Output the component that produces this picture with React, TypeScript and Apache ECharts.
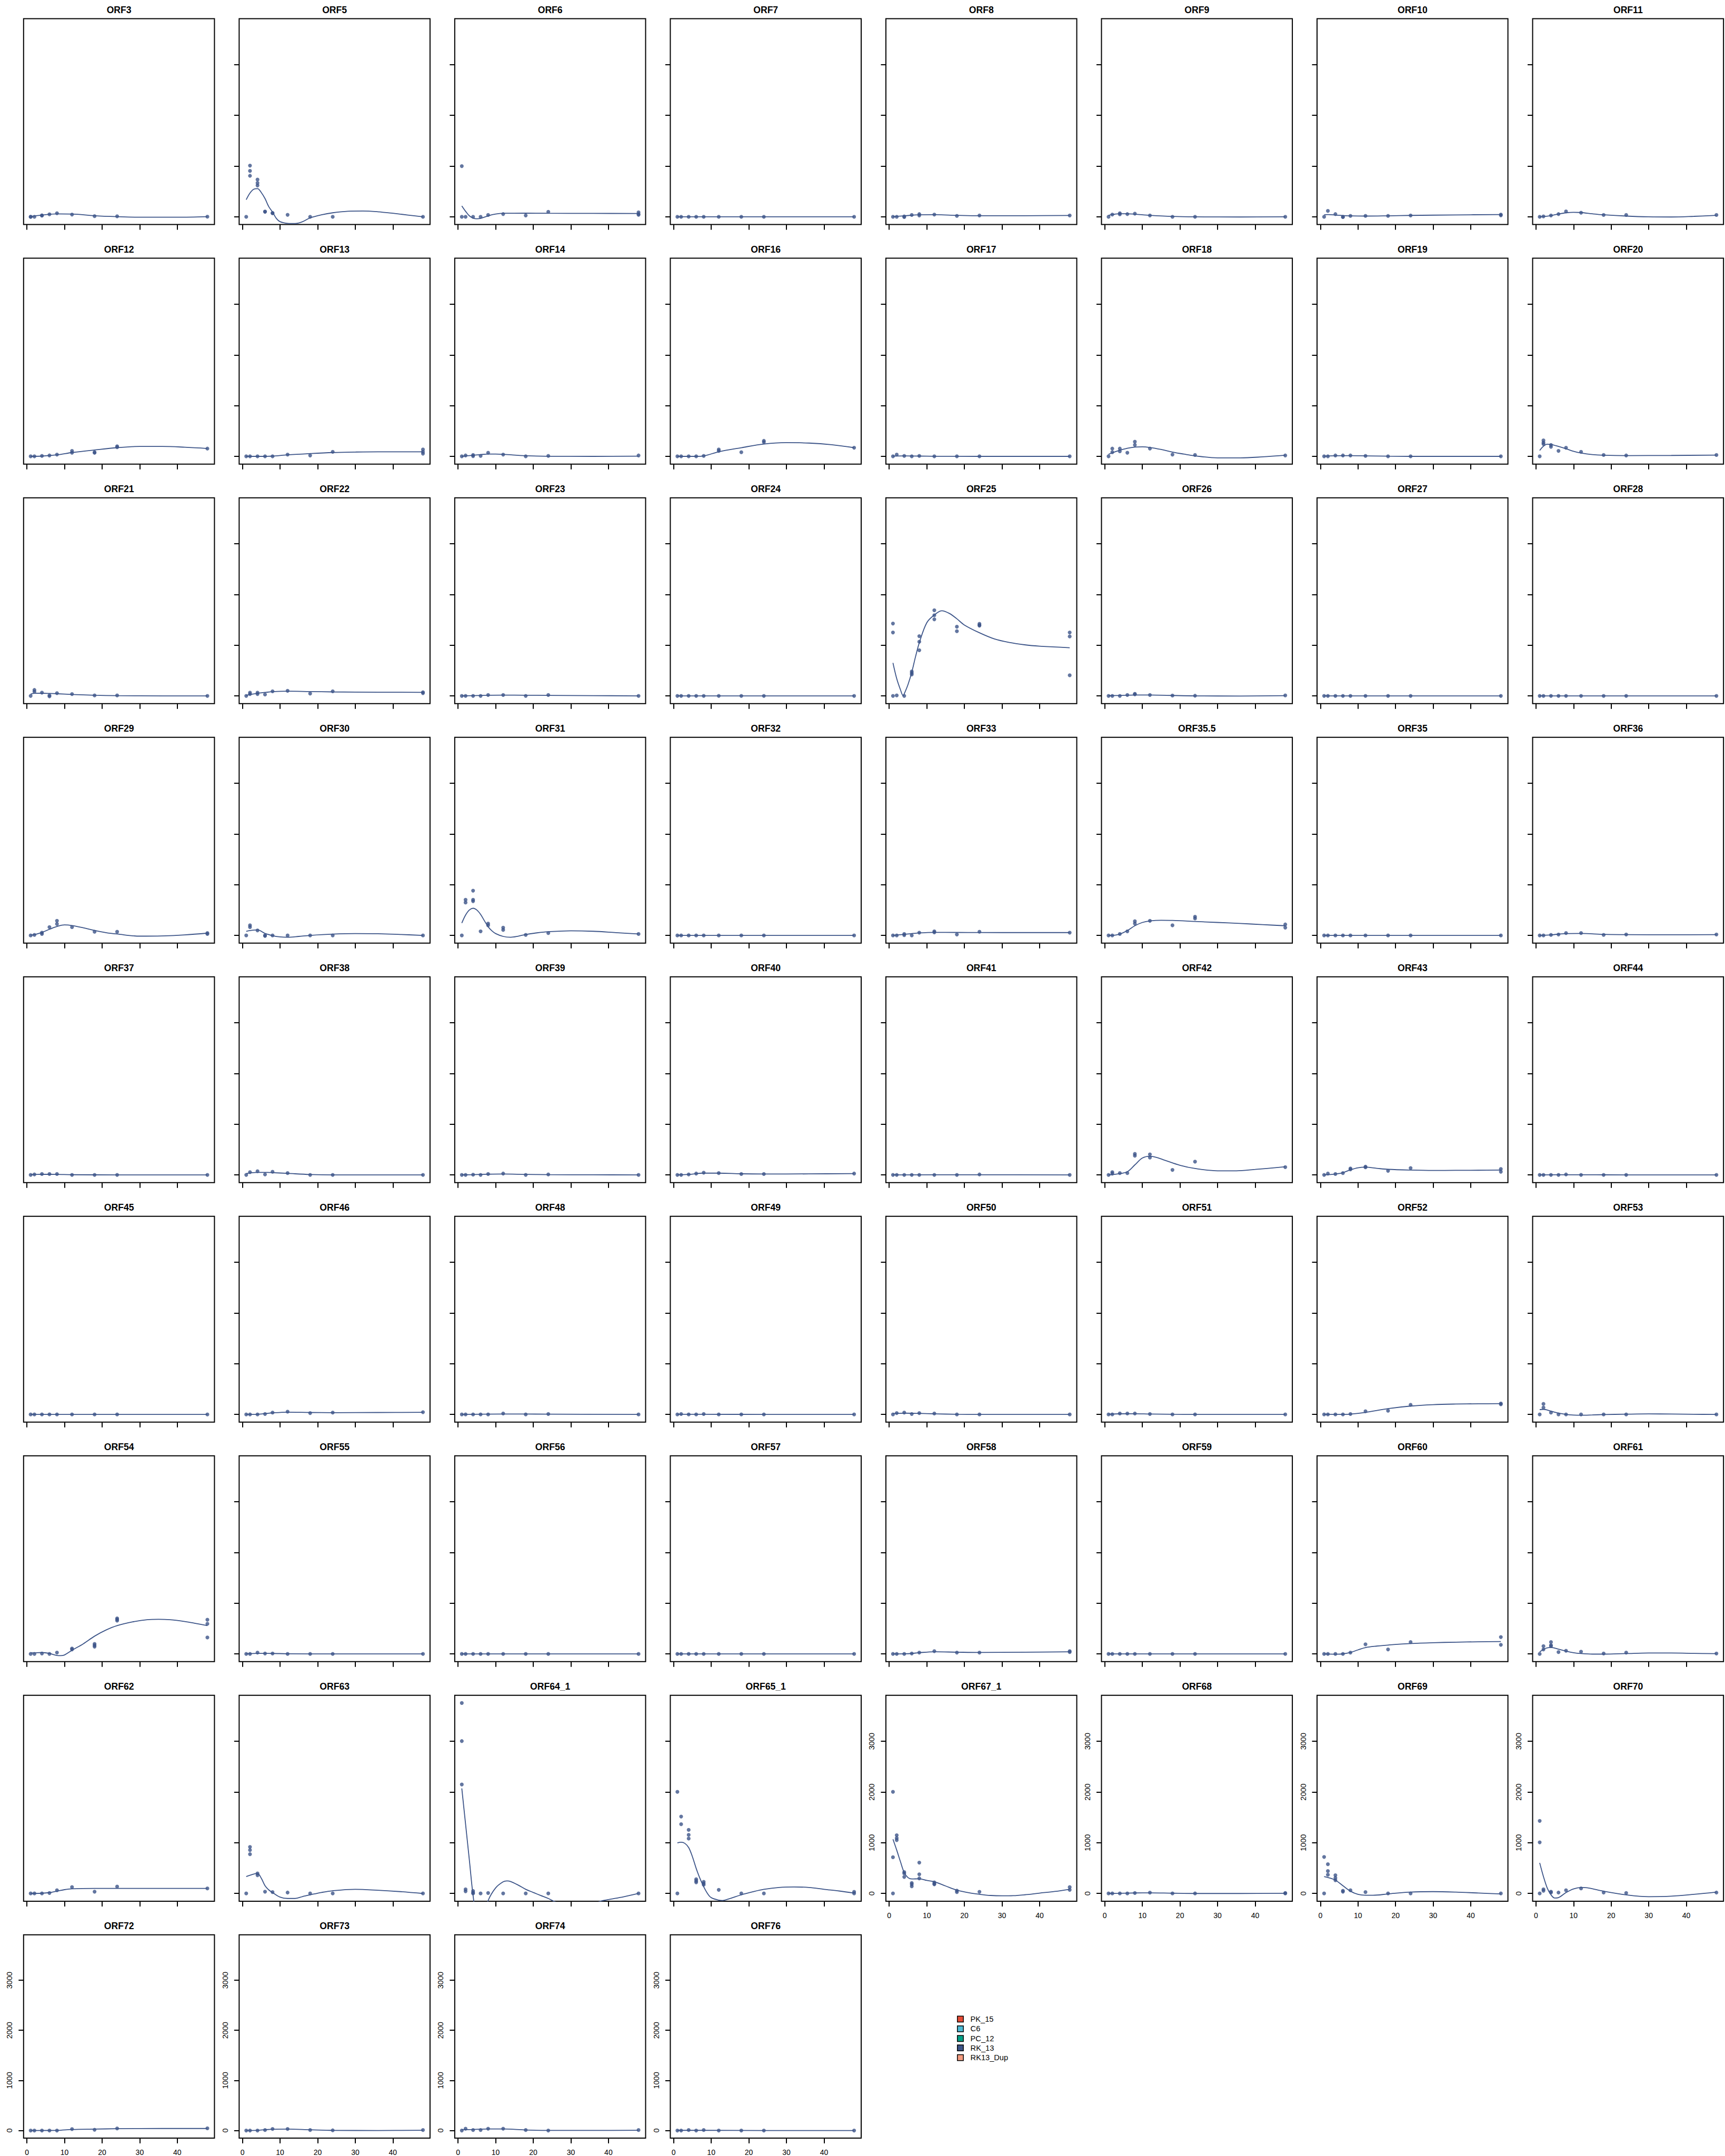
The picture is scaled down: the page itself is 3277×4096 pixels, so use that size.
import { useEffect, useRef } from "react";
import * as echarts from "echarts";

// ---------- data ----------
const timePoints = [1, 2, 4, 6, 8, 12, 18, 24, 48];
const xTicks = [0, 10, 20, 30, 40];
const yTicks = [0, 1000, 2000, 3000];
const X_MIN = -0.88;
const X_MAX = 49.88;
const Y_MIN = -152;
const Y_MAX = 3906;

const legendNames = ["PK_15", "C6", "PC_12", "RK_13", "RK13_Dup"];
const legendColors = ["#E64B35", "#4DBBD5", "#00A087", "#3C5488", "#F39B7F"];
const seriesColor = "#3C5488";

const panelNames = [
  "ORF3", "ORF5", "ORF6", "ORF7", "ORF8", "ORF9", "ORF10", "ORF11",
  "ORF12", "ORF13", "ORF14", "ORF16", "ORF17", "ORF18", "ORF19", "ORF20",
  "ORF21", "ORF22", "ORF23", "ORF24", "ORF25", "ORF26", "ORF27", "ORF28",
  "ORF29", "ORF30", "ORF31", "ORF32", "ORF33", "ORF35.5", "ORF35", "ORF36",
  "ORF37", "ORF38", "ORF39", "ORF40", "ORF41", "ORF42", "ORF43", "ORF44",
  "ORF45", "ORF46", "ORF48", "ORF49", "ORF50", "ORF51", "ORF52", "ORF53",
  "ORF54", "ORF55", "ORF56", "ORF57", "ORF58", "ORF59", "ORF60", "ORF61",
  "ORF62", "ORF63", "ORF64_1", "ORF65_1", "ORF67_1", "ORF68", "ORF69", "ORF70",
  "ORF72", "ORF73", "ORF74", "ORF76",
];

// observed values per time point (replicates)
const ORF3_pts = [[0, 0], [0], [23, 30], [49], [72], [46], [13], [10], [3]];
const ORF5_pts = [[0], [1010, 905, 809], [734, 668, 619], [105, 100], [76, 70], [40], [0], [0], [0]];
const ORF6_pts = [[1000, 0], [0], [0], [0], [36], [54], [27], [99], [90, 54, 40]];
const ORF7_pts = [[0], [0], [0], [0], [0], [0], [0], [0], [0]];
const ORF8_pts = [[0], [0], [9, -5], [36], [54, 27], [45], [18], [27], [27]];
const ORF9_pts = [[0], [45], [72, 50], [54], [63], [27], [0], [0], [0]];
const ORF10_pts = [[0], [117], [54], [0, -5], [18], [18], [18], [27], [45, 30]];
const ORF11_pts = [[0], [9], [27], [54], [108], [81], [36], [36], [36]];
const ORF12_pts = [[0], [0], [9], [18], [36], [108, 72], [81, 70], [198, 180], [153]];
const ORF13_pts = [[0], [0], [0], [0], [0], [36], [18], [90], [135, 90, 54]];
const ORF14_pts = [[0], [18], [27, 5], [9], [72], [36], [0], [9], [18]];
const ORF16_pts = [[0], [0], [0], [0], [9], [135, 108], [81], [306, 279], [171]];
const ORF17_pts = [[0], [36], [9], [0], [9], [0], [0], [0], [0]];
const ORF18_pts = [[0], [153, 81], [153, 99], [72], [288, 225], [153], [36], [27], [18]];
const ORF19_pts = [[0], [0], [18], [18], [18], [9], [0], [0], [0]];
const ORF20_pts = [[0], [315, 270, 243], [225, 189], [108], [171], [90], [27], [18], [27]];
const ORF21_pts = [[0], [117, 81], [63], [9, -10], [54], [36], [9], [9], [0]];
const ORF22_pts = [[0], [36, 63], [63, 36], [27], [90], [99], [45], [90], [72, 54]];
const ORF23_pts = [[0], [0], [0], [0], [18], [18], [0], [18], [0]];
const ORF24_pts = [[0], [0], [0], [0], [0], [0], [0], [0], [0]];
const ORF25_pts = [[1427, 1250, 0], [9], [0], [482, 451, 421], [1177, 1067, 900], [1687, 1589, 1510], [1363, 1275], [1420, 1395, 1385], [1250, 1171, 406]];
const ORF26_pts = [[0], [0], [0], [18], [40, 30], [18], [6], [3], [9]];
const ORF27_pts = [[0], [0], [0], [0], [0], [0], [0], [0], [0]];
const ORF28_pts = [[0], [0], [0], [0], [0], [0], [0], [0], [0]];
const ORF29_pts = [[0], [9], [54, 27], [162], [288, 225], [162], [72], [72], [45, 27]];
const ORF30_pts = [[0], [198, 162], [99], [0, -10], [0], [0], [0], [0], [0]];
const ORF31_pts = [[0], [702, 648], [882, 702, 675], [81], [234, 198], [153, 108], [9], [45], [27]];
const ORF32_pts = [[0], [0], [0], [0], [0], [0], [0], [0], [0]];
const ORF33_pts = [[0], [0], [27, 5], [0], [54], [81, 60], [18], [72], [54]];
const ORF35_5_pts = [[0], [0], [27], [81], [279, 234], [288], [198], [369, 333], [216, 153]];
const ORF35_pts = [[0], [0], [0], [0], [0], [0], [0], [0], [0]];
const ORF36_pts = [[0], [0], [9], [18], [45], [45], [9], [18], [18]];
const ORF37_pts = [[0], [9], [18], [18], [18], [0], [0], [0], [0]];
const ORF38_pts = [[0], [54], [72], [9], [63], [36], [0], [0], [0]];
const ORF39_pts = [[0], [0], [5], [0], [18], [27], [0], [9], [0]];
const ORF40_pts = [[0], [0], [9], [27], [45], [36], [18], [18], [27]];
const ORF41_pts = [[0], [0], [0], [0], [0], [0], [0], [9], [0]];
const ORF42_pts = [[0], [54, 27], [36], [36], [414, 378], [405, 342], [99], [261], [153]];
const ORF43_pts = [[0], [27], [18], [36], [126, 110], [162, 150], [81], [135], [117, 63]];
const ORF44_pts = [[0], [0], [0], [0], [9], [0], [0], [0], [0]];
const ORF45_pts = [[0], [0], [0], [0], [0], [0], [0], [0], [0]];
const ORF46_pts = [[0], [0], [0], [9], [36], [54], [27], [36], [45]];
const ORF48_pts = [[0], [0], [0], [0], [0], [18], [0], [9], [0]];
const ORF49_pts = [[0], [9], [0], [0], [9], [0], [0], [0], [0]];
const ORF50_pts = [[0], [27], [36], [9], [27], [18], [0], [0], [0]];
const ORF51_pts = [[0], [0], [18], [18], [18], [9], [0], [0], [0]];
const ORF52_pts = [[0], [0], [0], [0], [9], [63], [72], [189], [216, 200]];
const ORF53_pts = [[0], [207, 135], [36], [0], [0], [0], [0], [0], [0]];
const ORF54_pts = [[0], [0], [9], [0], [27], [108, 90], [198, 170, 144], [702, 680, 657], [675, 594, 324]];
const ORF55_pts = [[0], [0], [27], [9], [9], [0], [0], [0], [0]];
const ORF56_pts = [[0], [0], [0], [0], [0], [0], [0], [0], [0]];
const ORF57_pts = [[0], [0], [0], [0], [0], [0], [0], [0], [0]];
const ORF58_pts = [[0], [0], [0], [9], [27], [54], [27], [27], [54, 36]];
const ORF59_pts = [[0], [0], [0], [0], [0], [0], [0], [0], [0]];
const ORF60_pts = [[0], [0], [0], [0], [27], [189], [90], [234], [333, 180]];
const ORF61_pts = [[0], [153, 90], [234, 171, 153], [36], [63], [45], [9], [27], [9]];
const ORF62_pts = [[0], [0], [0], [9], [63], [126], [36], [135], [99]];
const ORF63_pts = [[0], [918, 855, 774], [396, 360], [36], [27], [18], [0], [0], [0]];
const ORF64_1_pts = [[3754, 3004, 2148], [82, 43], [49, 16, 0], [0], [10], [0], [0], [0], [0]];
const ORF65_1_pts = [[2003, 0], [1517, 1365], [1253, 1155, 1082], [280, 247, 220], [230, 197, 171], [72], [0], [0], [33, 0]];
const ORF67_1_pts = [[2003, 714, 0], [1148, 1092, 1053], [421, 395, 326], [207, 181, 141], [609, 378, 296], [220, 191, 181], [56, 26], [33], [125, 72]];
const ORF68_pts = [[0], [0], [0], [0], [10], [16], [0], [0], [10, 0]];
const ORF69_pts = [[720, 0], [576, 441, 369], [360, 306, 261], [54, 36], [63], [27], [0], [0], [0]];
const ORF70_pts = [[1431, 1008, 0], [81, 54], [36, 18], [18], [63], [99], [18], [9], [18]];
const ORF72_pts = [[0], [0], [0], [0], [0], [28], [16], [40], [43]];
const ORF73_pts = [[0], [0], [0], [9], [31], [31], [9], [3], [9]];
const ORF74_pts = [[0], [36], [9], [9], [36], [36], [9], [0], [9]];
const ORF76_pts = [[0], [0], [9], [0], [9], [0], [0], [0], [0]];

// fitted curve, read as [time, value] knots
const ORF3_fit = [[1, 8], [4, 35], [8, 58], [12, 55], [18, 22], [24, 3], [30, -8], [40, -8], [48, 3]];
const ORF5_fit = [[1, 339], [2, 470], [3, 545], [4, 556], [5, 480], [6, 360], [7, 200], [8, 95], [9, -30], [10, -95], [12, -128], [14, -132], [16, -95], [18, -20], [21, 40], [24, 80], [28, 110], [32, 115], [36, 100], [40, 70], [44, 35], [48, 0]];
const ORF6_fit = [[1, 216], [2, 110], [3, 20], [4, -25], [5, -38], [6, -30], [8, 20], [10, 55], [12, 70], [18, 72], [24, 70], [36, 68], [48, 66]];
const ORF7_fit = [[1, 0], [48, 0]];
const ORF8_fit = [[1, 5], [4, 20], [8, 40], [12, 42], [18, 30], [24, 22], [36, 22], [48, 27]];
const ORF9_fit = [[1, 30], [2, 45], [4, 60], [6, 60], [8, 52], [12, 30], [18, 8], [24, 0], [36, -3], [48, 0]];
const ORF10_fit = [[1, 40], [2, 45], [4, 35], [6, 25], [8, 18], [12, 15], [18, 20], [24, 28], [36, 38], [48, 45]];
const ORF11_fit = [[1, 0], [2, 5], [4, 25], [6, 55], [8, 80], [10, 90], [12, 85], [15, 60], [18, 40], [24, 15], [30, 0], [36, -3], [42, 10], [48, 30]];
const ORF12_fit = [[1, 0], [4, 5], [8, 30], [12, 75], [18, 126], [24, 171], [30, 195], [36, 195], [42, 180], [48, 155]];
const ORF13_fit = [[1, 0], [6, 0], [8, 5], [12, 30], [18, 55], [24, 75], [30, 85], [36, 90], [48, 90]];
const ORF14_fit = [[1, 0], [2, 8], [4, 22], [6, 35], [8, 45], [10, 45], [12, 40], [18, 12], [24, 2], [36, 0], [48, 3]];
const ORF16_fit = [[1, 0], [6, 0], [8, 9], [12, 90], [18, 171], [24, 243], [30, 270], [36, 262], [42, 230], [48, 171]];
const ORF17_fit = [[1, 5], [4, 8], [8, 5], [12, 2], [24, 0], [48, 0]];
const ORF18_fit = [[1, 40], [2, 70], [4, 120], [6, 160], [8, 183], [10, 189], [12, 175], [15, 135], [18, 85], [21, 45], [24, 10], [30, -30], [36, -30], [42, -10], [48, 22]];
const ORF19_fit = [[1, 3], [4, 12], [8, 14], [12, 10], [18, 3], [24, 0], [48, 0]];
const ORF20_fit = [[1, 117], [2, 200], [3, 240], [4, 235], [6, 195], [8, 150], [10, 100], [12, 65], [15, 35], [18, 22], [24, 15], [36, 18], [48, 25]];
const ORF21_fit = [[1, 35], [2, 50], [4, 52], [6, 48], [8, 42], [12, 28], [18, 12], [24, 4], [36, 0], [48, 0]];
const ORF22_fit = [[1, 10], [2, 25], [4, 50], [6, 68], [8, 82], [12, 92], [18, 85], [24, 78], [36, 72], [48, 70]];
const ORF23_fit = [[1, 0], [8, 12], [12, 15], [18, 12], [24, 10], [36, 5], [48, 0]];
const ORF24_fit = [[1, 0], [48, 0]];
const ORF25_fit = [[1, 650], [2, 340], [3, 120], [3.7, 5], [4, 40], [5, 223], [6, 467], [7, 772], [8, 1046], [10, 1443], [12, 1595], [14, 1678], [16, 1626], [18, 1519], [20, 1397], [24, 1244], [28, 1122], [32, 1052], [36, 1007], [40, 979], [44, 964], [48, 949]];
const ORF26_fit = [[1, 3], [4, 8], [8, 18], [12, 18], [18, 8], [24, 0], [36, -3], [48, 5]];
const ORF27_fit = [[1, 0], [48, 0]];
const ORF28_fit = [[1, 0], [48, 0]];
const ORF29_fit = [[1, 5], [2, 15], [4, 60], [6, 120], [8, 175], [10, 207], [12, 195], [15, 150], [18, 99], [21, 55], [24, 27], [30, -15], [36, -10], [42, 10], [48, 45]];
const ORF30_fit = [[1, 81], [2, 95], [4, 108], [6, 40], [8, -5], [10, -30], [12, -36], [15, -20], [18, 0], [24, 25], [30, 36], [36, 33], [42, 18], [48, 0]];
const ORF31_fit = [[1, 243], [2, 400], [3, 500], [4, 535], [5, 500], [6, 414], [7, 290], [8, 171], [9, 90], [10, 36], [12, -20], [14, -36], [16, -15], [18, 18], [21, 50], [24, 72], [30, 90], [36, 81], [42, 54], [48, 27]];
const ORF32_fit = [[1, 0], [48, 0]];
const ORF33_fit = [[1, 0], [4, 20], [8, 48], [12, 60], [18, 58], [24, 56], [36, 55], [48, 55]];
const ORF35_5_fit = [[1, 0], [2, 0], [4, 25], [6, 95], [8, 190], [10, 255], [12, 285], [15, 298], [18, 295], [24, 275], [30, 255], [36, 235], [42, 212], [48, 190]];
const ORF35_fit = [[1, 0], [48, 0]];
const ORF36_fit = [[1, 0], [4, 10], [8, 35], [12, 38], [18, 20], [24, 14], [36, 12], [48, 15]];
const ORF37_fit = [[1, 5], [4, 12], [8, 10], [12, 4], [24, 0], [48, 0]];
const ORF38_fit = [[1, 25], [2, 38], [4, 50], [6, 50], [8, 45], [12, 30], [18, 8], [24, 0], [48, 0]];
const ORF39_fit = [[1, 0], [4, 5], [8, 14], [12, 18], [18, 10], [24, 5], [36, 2], [48, 0]];
const ORF40_fit = [[1, 0], [4, 10], [8, 35], [12, 35], [18, 22], [24, 18], [36, 20], [48, 25]];
const ORF41_fit = [[1, 0], [24, 3], [48, 0]];
const ORF42_fit = [[1, 0], [2, 5], [4, 25], [6, 63], [8, 198], [10, 333], [12, 369], [14, 340], [16, 288], [20, 189], [24, 126], [30, 81], [35, 81], [40, 108], [48, 160]];
const ORF43_fit = [[1, 0], [4, 18], [6, 45], [8, 100], [10, 140], [12, 152], [15, 130], [18, 110], [24, 95], [30, 88], [36, 90], [42, 92], [48, 95]];
const ORF44_fit = [[1, 0], [8, 3], [24, 0], [48, 0]];
const ORF45_fit = [[1, 0], [48, 0]];
const ORF46_fit = [[1, 0], [4, 3], [8, 30], [12, 45], [18, 38], [24, 35], [36, 38], [48, 42]];
const ORF48_fit = [[1, 0], [12, 8], [24, 6], [48, 0]];
const ORF49_fit = [[1, 3], [8, 3], [24, 0], [48, 0]];
const ORF50_fit = [[1, 15], [2, 20], [4, 25], [8, 20], [12, 12], [18, 3], [24, 0], [48, 0]];
const ORF51_fit = [[1, 5], [4, 12], [8, 14], [12, 8], [18, 2], [24, 0], [48, 0]];
const ORF52_fit = [[1, 0], [6, 0], [8, 5], [12, 40], [18, 115], [24, 165], [30, 193], [36, 205], [42, 210], [48, 212]];
const ORF53_fit = [[1, 95], [2, 100], [4, 65], [6, 25], [8, 0], [10, -12], [12, -15], [15, -10], [18, -3], [24, 5], [30, 10], [36, 8], [42, 3], [48, 0]];
const ORF54_fit = [[1, 20], [2, 22], [4, 28], [6, 10], [8, -30], [9, -34], [10, -20], [12, 72], [15, 200], [18, 351], [21, 470], [24, 558], [28, 630], [32, 676], [35, 684], [38, 676], [42, 640], [45, 600], [48, 558]];
const ORF55_fit = [[1, 3], [4, 12], [8, 10], [12, 4], [24, 0], [48, 0]];
const ORF56_fit = [[1, 0], [48, 0]];
const ORF57_fit = [[1, 0], [48, 0]];
const ORF58_fit = [[1, 0], [4, 3], [6, 10], [8, 25], [12, 42], [18, 35], [24, 30], [36, 35], [48, 42]];
const ORF59_fit = [[1, 0], [48, 0]];
const ORF60_fit = [[1, 0], [4, -5], [6, 2], [8, 30], [10, 80], [12, 125], [15, 155], [18, 175], [24, 205], [30, 222], [36, 232], [42, 240], [48, 245]];
const ORF61_fit = [[1, 40], [2, 90], [3, 120], [4, 128], [5, 115], [6, 95], [8, 55], [10, 25], [12, 8], [15, -3], [18, -3], [24, 8], [30, 18], [36, 18], [42, 12], [48, 5]];
const ORF62_fit = [[1, 0], [4, 5], [6, 18], [8, 45], [10, 75], [12, 92], [18, 100], [24, 100], [36, 100], [48, 100]];
const ORF63_fit = [[1, 333], [2, 360], [4, 396], [5, 300], [6, 153], [7, 70], [8, 18], [10, -72], [12, -99], [14, -99], [16, -60], [18, -27], [21, 20], [24, 54], [30, 81], [36, 63], [42, 36], [48, 0]];
const ORF64_1_fit = [[1, 2072], [2, 1369], [3, 665], [4, -43], [5, -500], [6, -600], [7, -420], [8, -140], [10, 110], [12, 230], [13, 247], [14, 235], [16, 165], [18, 82], [20, 20], [22, -40], [24, -99], [26, -170], [30, -260], [34, -260], [38, -150], [40, -120], [44, -66], [48, 0]];
const ORF65_1_fit = [[1, 997], [2, 1010], [3, 987], [4, 905], [5, 724], [6, 494], [7, 296], [8, 132], [9, 0], [10, -82], [12, -132], [13, -138], [15, -99], [18, -26], [21, 33], [24, 82], [28, 118], [32, 128], [36, 118], [40, 82], [44, 49], [48, 7]];
const ORF67_1_fit = [[1, 1069], [2, 855], [3, 625], [4, 411], [5, 313], [6, 286], [8, 290], [10, 257], [12, 230], [15, 148], [18, 66], [21, 16], [24, -16], [27, -39], [30, -46], [33, -43], [36, -26], [40, 7], [44, 39], [48, 82]];
const ORF68_fit = [[1, 0], [4, 3], [8, 10], [12, 12], [18, 5], [24, 0], [36, 0], [48, 3]];
const ORF69_fit = [[1, 333], [2, 315], [4, 261], [6, 153], [8, 45], [10, -18], [12, -36], [14, -36], [18, -9], [24, 27], [30, 36], [36, 27], [42, 9], [48, -9]];
const ORF70_fit = [[1, 603], [2, 333], [3, 108], [4, -27], [5, -90], [6, -81], [8, 18], [10, 90], [12, 117], [14, 108], [18, 45], [24, -27], [30, -63], [36, -54], [42, -18], [48, 27]];
const ORF72_fit = [[1, 0], [8, 2], [12, 20], [18, 28], [24, 35], [36, 40], [48, 40]];
const ORF73_fit = [[1, 0], [4, 5], [6, 15], [8, 25], [12, 28], [18, 15], [24, 3], [36, 0], [48, 5]];
const ORF74_fit = [[1, 15], [4, 20], [8, 30], [12, 30], [18, 10], [24, 2], [36, 2], [48, 5]];
const ORF76_fit = [[1, 3], [8, 3], [24, 0], [48, 0]];

const panelPoints = [
  ORF3_pts, ORF5_pts, ORF6_pts, ORF7_pts, ORF8_pts, ORF9_pts, ORF10_pts, ORF11_pts,
  ORF12_pts, ORF13_pts, ORF14_pts, ORF16_pts, ORF17_pts, ORF18_pts, ORF19_pts, ORF20_pts,
  ORF21_pts, ORF22_pts, ORF23_pts, ORF24_pts, ORF25_pts, ORF26_pts, ORF27_pts, ORF28_pts,
  ORF29_pts, ORF30_pts, ORF31_pts, ORF32_pts, ORF33_pts, ORF35_5_pts, ORF35_pts, ORF36_pts,
  ORF37_pts, ORF38_pts, ORF39_pts, ORF40_pts, ORF41_pts, ORF42_pts, ORF43_pts, ORF44_pts,
  ORF45_pts, ORF46_pts, ORF48_pts, ORF49_pts, ORF50_pts, ORF51_pts, ORF52_pts, ORF53_pts,
  ORF54_pts, ORF55_pts, ORF56_pts, ORF57_pts, ORF58_pts, ORF59_pts, ORF60_pts, ORF61_pts,
  ORF62_pts, ORF63_pts, ORF64_1_pts, ORF65_1_pts, ORF67_1_pts, ORF68_pts, ORF69_pts, ORF70_pts,
  ORF72_pts, ORF73_pts, ORF74_pts, ORF76_pts,
];
const panelFits = [
  ORF3_fit, ORF5_fit, ORF6_fit, ORF7_fit, ORF8_fit, ORF9_fit, ORF10_fit, ORF11_fit,
  ORF12_fit, ORF13_fit, ORF14_fit, ORF16_fit, ORF17_fit, ORF18_fit, ORF19_fit, ORF20_fit,
  ORF21_fit, ORF22_fit, ORF23_fit, ORF24_fit, ORF25_fit, ORF26_fit, ORF27_fit, ORF28_fit,
  ORF29_fit, ORF30_fit, ORF31_fit, ORF32_fit, ORF33_fit, ORF35_5_fit, ORF35_fit, ORF36_fit,
  ORF37_fit, ORF38_fit, ORF39_fit, ORF40_fit, ORF41_fit, ORF42_fit, ORF43_fit, ORF44_fit,
  ORF45_fit, ORF46_fit, ORF48_fit, ORF49_fit, ORF50_fit, ORF51_fit, ORF52_fit, ORF53_fit,
  ORF54_fit, ORF55_fit, ORF56_fit, ORF57_fit, ORF58_fit, ORF59_fit, ORF60_fit, ORF61_fit,
  ORF62_fit, ORF63_fit, ORF64_1_fit, ORF65_1_fit, ORF67_1_fit, ORF68_fit, ORF69_fit, ORF70_fit,
  ORF72_fit, ORF73_fit, ORF74_fit, ORF76_fit,
];

// ---------- layout (reference px * 0.711) ----------
const S = 0.711;
const COLS = 8;
const COL_PITCH = 576 * S;
const ROW_PITCH = 640 * S;
const BOX_LEFT0 = 63 * S;
const BOX_TOP0 = 50 * S;
const BOX_W = 510 * S;
const BOX_H = 550 * S;
const TITLE_Y0 = 26.8 * S;
const FONT = "'Liberation Sans', Arial, sans-serif";
const FIRST_LABELLED = 60;

function buildOption() {
  const grids: any[] = [];
  const xAxes: any[] = [];
  const yAxes: any[] = [];
  const series: any[] = [];
  const graphics: any[] = [];

  panelNames.forEach((name, i) => {
    const col = i % COLS;
    const row = Math.floor(i / COLS);
    const left = BOX_LEFT0 + col * COL_PITCH;
    const top = BOX_TOP0 + row * ROW_PITCH;
    const labelled = i >= FIRST_LABELLED;
    const yTicksShown = col !== 0 || labelled;

    grids.push({
      left, top, width: BOX_W, height: BOX_H,
      show: true, borderColor: "#000", borderWidth: 2, backgroundColor: "transparent",
    });
    xAxes.push({
      gridIndex: i, type: "value", min: X_MIN, max: X_MAX, position: "bottom",
      splitLine: { show: false },
      axisLine: { show: false, onZero: false },
      axisTick: { show: true, inside: false, length: 10, customValues: xTicks, lineStyle: { color: "#000", width: 2 } },
      axisLabel: {
        show: labelled, customValues: xTicks, margin: 20, fontSize: 14, color: "#000", fontFamily: FONT,
        formatter: (v: number) => String(v),
      },
    });
    yAxes.push({
      gridIndex: i, type: "value", min: Y_MIN, max: Y_MAX, position: "left",
      splitLine: { show: false },
      axisLine: { show: false, onZero: false },
      axisTick: { show: yTicksShown, inside: false, length: 9.5, customValues: yTicks, lineStyle: { color: "#000", width: 2 } },
      axisLabel: {
        show: labelled, customValues: yTicks, rotate: 90, margin: 19, fontSize: 14.5, color: "#000", fontFamily: FONT,
        formatter: (v: number) => String(v),
      },
    });

    const pts: number[][] = [];
    panelPoints[i].forEach((reps, k) => reps.forEach((v) => pts.push([timePoints[k], v])));

    series.push({
      type: "line", name: name + " fit", xAxisIndex: i, yAxisIndex: i,
      data: panelFits[i], smooth: 0.35, showSymbol: false, symbol: "none",
      lineStyle: { color: seriesColor, width: 1.8 }, clip: true, silent: true,
    });
    series.push({
      type: "scatter", name: "RK_13", xAxisIndex: i, yAxisIndex: i,
      data: pts, symbol: "circle", symbolSize: 7.2,
      itemStyle: { color: seriesColor }, silent: true,
    });

    graphics.push({
      type: "text",
      x: left + BOX_W / 2,
      y: TITLE_Y0 + row * ROW_PITCH,
      style: {
        text: name, fill: "#000",
        font: `bold 17.6px ${FONT}`,
        textAlign: "center", textVerticalAlign: "middle",
        align: "center", verticalAlign: "middle",
      },
    });
  });

  // legend (drawn as boxes and labels)
  const legendYs = [5395, 5421, 5447, 5472, 5498];
  legendNames.forEach((nm, k) => {
    const cy = legendYs[k] * S;
    graphics.push({
      type: "rect",
      shape: { x: 2558 * S, y: cy - 5.7, width: 11.4, height: 11.4 },
      style: { fill: legendColors[k], stroke: "#000", lineWidth: 1.5 },
    });
    graphics.push({
      type: "text",
      x: 2593 * S,
      y: cy,
      style: {
        text: nm, fill: "#000", font: `14.6px ${FONT}`,
        textAlign: "left", textVerticalAlign: "middle",
        align: "left", verticalAlign: "middle",
      },
    });
  });

  return {
    animation: false,
    backgroundColor: "#fff",
    grid: grids,
    xAxis: xAxes,
    yAxis: yAxes,
    series,
    graphic: graphics,
  };
}

export default function App() {
  const ref = useRef<HTMLDivElement>(null);
  useEffect(() => {
    if (!ref.current) return;
    const chart = echarts.init(ref.current, undefined, { renderer: "svg" });
    chart.setOption(buildOption() as any);
    return () => chart.dispose();
  }, []);
  return (
    <div
      ref={ref}
      style={{ position: "absolute", left: 0, top: 0, width: 3277, height: 4096, background: "#fff" }}
    />
  );
}
